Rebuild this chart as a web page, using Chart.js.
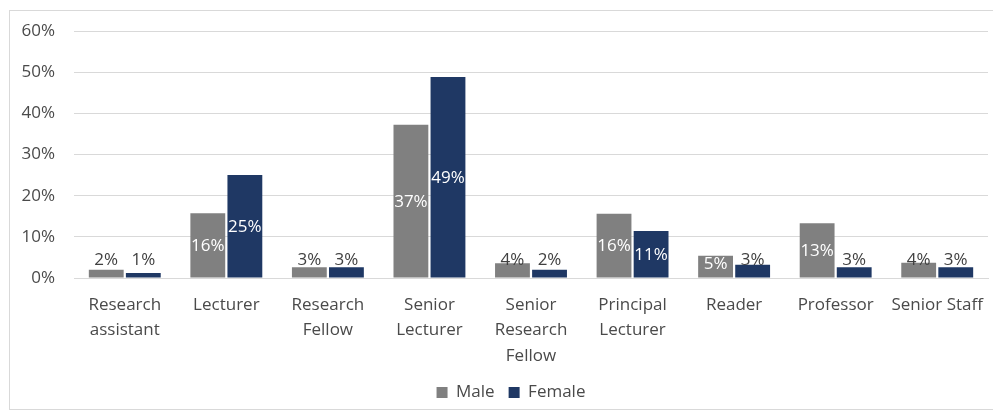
<!DOCTYPE html>
<html>
<head>
<meta charset="utf-8">
<script src="https://cdn.jsdelivr.net/npm/chart.js@4/dist/chart.umd.min.js"></script>
<style>
  html, body { margin: 0; padding: 0; background: #ffffff; }
  #wrap { position: relative; width: 993px; height: 413px; }
  canvas { display: block; }
</style>
</head>
<body>
<div id="wrap"><canvas id="chart" width="993" height="413"></canvas></div>
<script>
// Staff grade categories (multi-line labels)
const categories = [
  ['Research', 'assistant'],
  ['Lecturer'],
  ['Research', 'Fellow'],
  ['Senior', 'Lecturer'],
  ['Senior', 'Research', 'Fellow'],
  ['Principal', 'Lecturer'],
  ['Reader'],
  ['Professor'],
  ['Senior Staff']
];

// Share of each gender in each grade (%)
const maleValues   = [2.0, 15.7, 2.6, 37.2, 3.6, 15.6, 5.4, 13.3, 3.7];
const femaleValues = [1.2, 25.0, 2.6, 48.8, 2.0, 11.4, 3.2, 2.6, 2.6];

const seriesNames = ['Male', 'Female'];
const yTicks = [0, 10, 20, 30, 40, 50, 60];

const FONT = "'Open Sans', 'DejaVu Sans', sans-serif";
const TEXT = '#4a4a4a';

// Light frame around the chart
const framePlugin = {
  id: 'frame',
  beforeDraw(chart) {
    const ctx = chart.ctx;
    ctx.save();
    ctx.fillStyle = '#ffffff';
    ctx.fillRect(0, 0, chart.width, chart.height);
    ctx.strokeStyle = '#d9d9d9';
    ctx.lineWidth = 1;
    ctx.strokeRect(9.5, 10.5, 1000, 399);
    ctx.restore();
  }
};

// Legend centred on the plot area rather than on the canvas
const legendShift = {
  id: 'legendShift',
  beforeDraw(chart) {
    const lg = chart.legend;
    if (!lg) return;
    const target = 511;
    const delta = target - (lg.left + lg.right) / 2;
    lg.left += delta;
    lg.right += delta;
  }
};

// Percentage labels: white inside tall bars, dark above short ones
const valueLabels = {
  id: 'valueLabels',
  afterDatasetsDraw(chart) {
    const ctx = chart.ctx;
    const zeroY = chart.scales.y.getPixelForValue(0);
    ctx.save();
    ctx.font = '17px ' + FONT;
    ctx.textAlign = 'center';
    ctx.textBaseline = 'middle';
    chart.data.datasets.forEach((ds, i) => {
      chart.getDatasetMeta(i).data.forEach((bar, j) => {
        const v = ds.data[j];
        const inside = v >= 5;
        const mid = (bar.y + bar.base) / 2 + 1;
        const y = inside ? Math.min(mid, zeroY - 14) : zeroY - 18;
        ctx.fillStyle = inside ? '#ffffff' : '#404040';
        ctx.fillText(Math.round(v) + '%', bar.x, y);
      });
    });
    ctx.restore();
  }
};

new Chart(document.getElementById('chart'), {
  type: 'bar',
  data: {
    labels: categories,
    datasets: [
      { label: seriesNames[0], data: maleValues, backgroundColor: '#808080' },
      { label: seriesNames[1], data: femaleValues, backgroundColor: '#1f3864' }
    ]
  },
  options: {
    responsive: false,
    animation: false,
    devicePixelRatio: 1,
    layout: { padding: { left: 0, right: 5, top: 31, bottom: 2 } },
    datasets: { bar: { categoryPercentage: 0.73, barPercentage: 0.94 } },
    plugins: {
      tooltip: { enabled: false },
      legend: {
        position: 'bottom',
        labels: {
          font: { family: FONT, size: 17 },
          color: TEXT,
          boxWidth: 11,
          boxHeight: 11,
          padding: 14
        }
      }
    },
    scales: {
      x: {
        grid: { display: false, drawTicks: false },
        border: { display: true, color: '#d9d9d9', width: 1 },
        ticks: {
          font: { family: FONT, size: 17, lineHeight: 1.5 },
          color: TEXT,
          padding: 14,
          maxRotation: 0,
          autoSkip: false
        },
        afterFit(scale) {
          scale.height = 92;
          scale.paddingLeft = 0;
          scale.paddingRight = 0;
        }
      },
      y: {
        min: 0,
        max: 60,
        afterBuildTicks(scale) { scale.ticks = yTicks.map(v => ({ value: v })); },
        grid: { color: '#d9d9d9', drawTicks: false },
        border: { display: false },
        ticks: {
          font: { family: FONT, size: 17 },
          color: TEXT,
          padding: 19,
          callback: v => v + '%'
        },
        afterFit(scale) { scale.width = 74; }
      }
    }
  },
  plugins: [framePlugin, legendShift, valueLabels]
});
</script>
</body>
</html>
